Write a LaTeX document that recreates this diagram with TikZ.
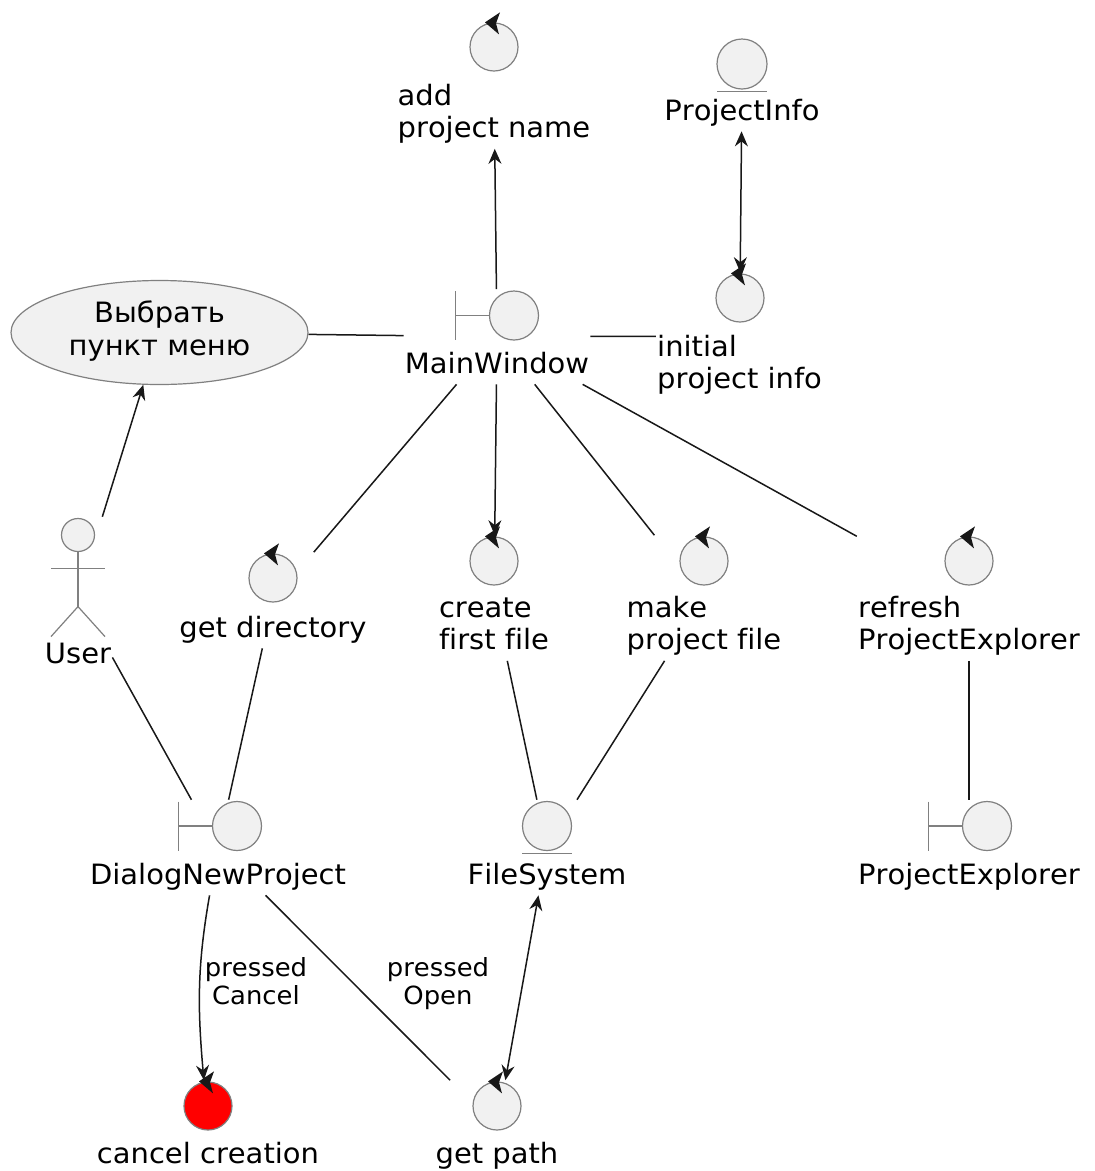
\documentclass[tikz,border=0pt]{standalone}
\usepackage{fontspec}
\setmainfont{DejaVu Sans}[Kerning=Off, Ligatures=NoCommon, FakeStretch=1.035]
\usetikzlibrary{arrows.meta,shapes.geometric,fit}

\definecolor{iconfill}{HTML}{F1F1F1}
\definecolor{iconedge}{HTML}{808080}
\definecolor{linkcol}{HTML}{181818}
\definecolor{alarm}{HTML}{FF0000}

\tikzset{
  icon/.style={circle, draw=iconedge, fill=iconfill, line width=1.2pt, inner sep=0pt, minimum size=48pt},
  iconline/.style={draw=iconedge, line width=1.2pt},
  namelbl/.style={inner sep=0pt, font=\fontsize{28}{32.5}\selectfont, align=left, anchor=north},
  linklbl/.style={inner sep=0pt, font=\fontsize{25}{28.3}\selectfont, align=center, anchor=north},
  fitbox/.style={rectangle, inner sep=1pt, draw=none},
  link/.style={draw=linkcol, line width=1.5pt},
  arrowed/.style={-{Stealth[length=15pt,width=13pt,inset=5pt]}},
  twoway/.style={{Stealth[length=15pt,width=13pt,inset=5pt]}-{Stealth[length=15pt,width=13pt,inset=5pt]}},
}

% little arrow on top of a control circle
\newcommand{\ctrlmark}[1]{\fill[linkcol, shift={(#1.north)}] (-9,0) -- (6,10) -- (2,-1) -- (5,-12) -- cycle;}
% boundary bar to the left of a circle
\newcommand{\bndbar}[1]{\draw[iconline] (#1.west) -- ++(-33.5,0) ++(0,24.5) -- ++(0,-49);}
% entity underline
\newcommand{\entline}[1]{\draw[iconline] ([shift={(-25,-2)}]#1.south) -- ([shift={(25,-2)}]#1.south);}

\begin{document}
\begin{tikzpicture}[x=1pt,y=1pt]
\fill[white] (0,0) rectangle (1095,-1171);
\useasboundingbox (0,0) rectangle (1095,-1171);

% --- add project name (control)
\node[icon] (apnI) at (494,-47) {};
\ctrlmark{apnI}
\node[namelbl] (apnL) at (494,-82.25) {\strut add\\\strut project name};
\node[fitbox, fit=(apnI)(apnL)] (apn) {};

% --- ProjectInfo (entity)
\node[icon, minimum size=50pt] (piI) at (742,-64) {};
\entline{piI}
\node[namelbl] (piL) at (742,-97.25) {\strut ProjectInfo};
\node[fitbox, fit=(piI)(piL)] (pi) {};

% --- initial project info (control)
\node[icon] (ipiI) at (740,-298) {};
\ctrlmark{ipiI}
\node[namelbl, anchor=north west] (ipiL) at (657,-333.25) {\strut initial\\\strut project info};
\node[fitbox, fit=(ipiI)(ipiL)] (ipi) {};

% --- MainWindow (boundary)
\node[icon, minimum size=49pt] (mwI) at (514,-315.5) {};
\bndbar{mwI}
\node[namelbl] (mwL) at (497,-350.25) {\strut MainWindow};
\node[fitbox, fit=(mwI)(mwL)] (mw) {};

% --- use case
\node[ellipse, draw=iconedge, fill=iconfill, line width=1.2pt, minimum width=297pt, minimum height=104pt,
      inner sep=0pt, font=\fontsize{28}{32.5}\selectfont, align=center] (uc) at (159.5,-332.5)
      {\strut Выбрать\\\strut пункт меню};

% --- User (actor)
\node[icon, minimum size=33pt] (usI) at (78,-535) {};
\draw[iconline] (usI.south) -- ++(0,-54.5) coordinate (usHip);
\draw[iconline] (usHip) -- ++(-27,-30) (usHip) -- ++(27,-30);
\draw[iconline] ([yshift=-16]usI.south) ++(-27,0) -- ++(54,0);
\node[namelbl] (usL) at (78,-640.25) {\strut User};
\node[fitbox, fit=(usI)(usL)] (us) {};

% --- get directory (control)
\node[icon] (gdI) at (273,-578) {};
\ctrlmark{gdI}
\node[namelbl] (gdL) at (273,-614.25) {\strut get directory};
\node[fitbox, fit=(gdI)(gdL)] (gd) {};

% --- create first file (control)
\node[icon] (cfI) at (494,-561) {};
\ctrlmark{cfI}
\node[namelbl] (cfL) at (494,-594.25) {\strut create\\\strut first file};
\node[fitbox, fit=(cfI)(cfL)] (cf) {};

% --- make project file (control)
\node[icon] (mpI) at (704,-561) {};
\ctrlmark{mpI}
\node[namelbl] (mpL) at (704,-594.25) {\strut make\\\strut project file};
\node[fitbox, fit=(mpI)(mpL)] (mp) {};

% --- refresh ProjectExplorer (control)
\node[icon] (rpI) at (969,-561) {};
\ctrlmark{rpI}
\node[namelbl] (rpL) at (969,-594.25) {\strut refresh\\\strut ProjectExplorer};
\node[fitbox, fit=(rpI)(rpL)] (rp) {};

% --- DialogNewProject (boundary)
\node[icon, minimum size=49pt] (dnpI) at (237,-826) {};
\bndbar{dnpI}
\node[namelbl] (dnpL) at (218,-861.25) {\strut DialogNewProject};
\node[fitbox, fit=(dnpI)(dnpL)] (dnp) {};

% --- FileSystem (entity)
\node[icon, minimum size=49pt] (fsI) at (547,-826) {};
\entline{fsI}
\node[namelbl] (fsL) at (547,-861.25) {\strut FileSystem};
\node[fitbox, fit=(fsI)(fsL)] (fs) {};

% --- ProjectExplorer (boundary)
\node[icon, minimum size=49pt] (peI) at (987,-826) {};
\bndbar{peI}
\node[namelbl] (peL) at (969,-861.25) {\strut ProjectExplorer};
\node[fitbox, fit=(peI)(peL)] (pe) {};

% --- cancel creation (control, highlighted)
\node[icon, fill=alarm] (ccI) at (208,-1106) {};
\ctrlmark{ccI}
\node[namelbl] (ccL) at (208,-1140.25) {\strut cancel creation};
\node[fitbox, fit=(ccI)(ccL)] (cc) {};

% --- get path (control)
\node[icon] (gpI) at (497,-1106) {};
\ctrlmark{gpI}
\node[namelbl] (gpL) at (497,-1140.25) {\strut get path};
\node[fitbox, fit=(gpI)(gpL)] (gp) {};

% --- connectors
\draw[link] (uc) -- (mw);
\draw[link] (mw) -- (ipi);
\draw[link, arrowed] (mw) -- (apn);
\draw[link, twoway] (pi) -- (ipi);
\draw[link, arrowed] (us) -- (uc);
\draw[link] (mw) -- (gd);
\draw[link, arrowed] (mw) -- (cf);
\draw[link] (mw) -- (mp);
\draw[link] (mw) -- (rp);
\draw[link] (us) -- (dnp);
\draw[link] (gd) -- (dnp);
\draw[link] (cf) -- (fs);
\draw[link] (mp) -- (fs);
\draw[link] (rp) -- (pe);
\draw[link, arrowed] (dnp) to[out=-100, in=95] (cc);
\draw[link] (dnp) -- (gp);
\draw[link, twoway] (gp) -- (fs);

% --- connector labels
\node[linklbl] (plc) at (256,-956.2) {\strut pressed\\\strut Cancel};
\node[linklbl] (plo) at (438,-956.2) {\strut pressed\\\strut Open};
\end{tikzpicture}
\end{document}
